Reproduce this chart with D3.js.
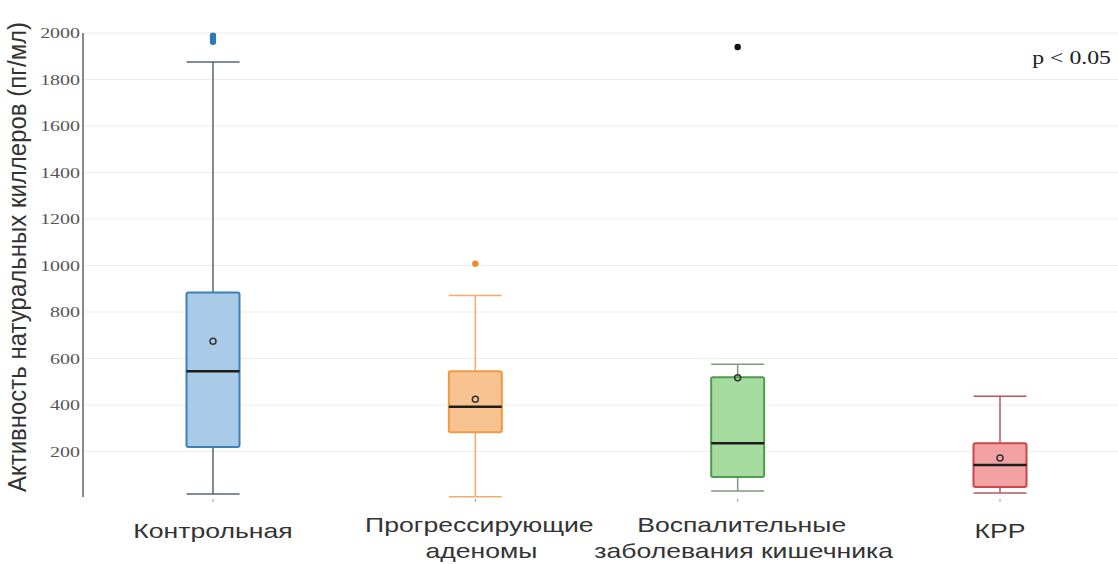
<!DOCTYPE html>
<html>
<head>
<meta charset="utf-8">
<script src="https://cdn.jsdelivr.net/npm/d3@7"></script>
<style>
  html, body { margin: 0; padding: 0; background: #fff; }
  svg { display: block; }
  .yaxis text { font-family: "Liberation Serif", "DejaVu Serif", serif; }
</style>
</head>
<body>
<svg id="chart" width="1118" height="564"></svg>
<script>
// Group labels (multi-line labels split by "\n")
const categories = [
  "Контрольная",
  "Прогрессирующие\nаденомы",
  "Воспалительные\nзаболевания кишечника",
  "КРР"
];
// Box-plot statistics, pg/ml
const whiskerLow  = [17, 5, 30, 21];
const q1          = [219, 283, 90, 47];
const median      = [545, 392, 236, 142];
const q3          = [884, 545, 519, 236];
const whiskerHigh = [1875, 871, 575, 438];
const means       = [674, 425, 517, 172];
const outliers    = [[1962, 1975, 1988], [1008], [1940], []];

const yTicks = [200, 400, 600, 800, 1000, 1200, 1400, 1600, 1800, 2000];

const fills   = ["#a9cbe7", "#f8c390", "#a6dba0", "#f2a2a3"];
const strokes = ["#3f7fb2", "#f09a45", "#4f9c4c", "#c9474b"];
const whiskerColors = ["#5a6670", "#f0ad70", "#7d9a7a", "#b5585c"];
const outlierColors = ["#2f79b3", "#f08a2a", "#111111", "#c9474b"];

// text is drawn slightly widened horizontally
const SX = 1.33;

const svg = d3.select("#chart");
const plot = { left: 83, right: 1118, top: 33, bottom: 498 };

const y = d3.scaleLinear().domain([0, 2000]).range([plot.bottom, plot.top]);
const x = d3.scalePoint().domain(d3.range(categories.length)).range([213, 1000]);
const bw = 53;

// grid lines
svg.append("g")
  .selectAll("line").data(yTicks).join("line")
  .attr("x1", plot.left).attr("x2", plot.right)
  .attr("y1", d => y(d)).attr("y2", d => y(d))
  .attr("stroke", "#ececec").attr("stroke-width", 1);

// y axis
const yAxis = d3.axisLeft(y).tickValues(yTicks).tickFormat(d3.format("d"))
  .tickSize(0).tickPadding(0);
const gy = svg.append("g").attr("class", "yaxis")
  .attr("transform", `translate(${plot.left},0)`).call(yAxis)
  .attr("font-family", "'Liberation Serif', 'DejaVu Serif', serif");
gy.select(".domain").attr("stroke", "#8a8a8a").attr("stroke-width", 2)
  .attr("d", `M0,${plot.top}V${plot.bottom - 1}`);
gy.selectAll(".tick text")
  .attr("x", 0)
  .attr("transform", `translate(-3,0) scale(${SX},1)`)
  .attr("font-size", 15).attr("fill", "#555");

// y axis title
svg.append("text")
  .attr("transform", `translate(26,257) scale(1.1,1) rotate(-90)`)
  .attr("text-anchor", "middle")
  .attr("font-family", "'Liberation Sans', Arial, sans-serif")
  .attr("font-size", 24).attr("fill", "#333")
  .text("Активность натуральных киллеров (пг/мл)");

// boxes
const groups = svg.append("g").selectAll("g").data(categories).join("g")
  .attr("transform", (d, i) => `translate(${x(i) - bw / 2},0)`);

groups.each(function (d, i) {
  const g = d3.select(this);
  const cx = bw / 2;
  // whisker stem
  g.append("line").attr("x1", cx).attr("x2", cx)
    .attr("y1", y(whiskerLow[i])).attr("y2", y(whiskerHigh[i]))
    .attr("stroke", whiskerColors[i]).attr("stroke-width", 1.5);
  // caps
  [whiskerLow[i], whiskerHigh[i]].forEach(v => {
    g.append("line").attr("x1", 0).attr("x2", bw)
      .attr("y1", y(v)).attr("y2", y(v))
      .attr("stroke", whiskerColors[i]).attr("stroke-width", 1.5);
  });
  // box
  g.append("rect").attr("x", 0).attr("width", bw)
    .attr("y", y(q3[i])).attr("height", y(q1[i]) - y(q3[i]))
    .attr("rx", 2)
    .attr("fill", fills[i]).attr("stroke", strokes[i]).attr("stroke-width", 2);
  // median
  g.append("line").attr("x1", 0).attr("x2", bw)
    .attr("y1", y(median[i])).attr("y2", y(median[i]))
    .attr("stroke", "#1d1d1d").attr("stroke-width", 2.5);
  // mean
  g.append("circle").attr("cx", cx).attr("cy", y(means[i])).attr("r", 3)
    .attr("fill", "none").attr("stroke", "#333").attr("stroke-width", 1.5);
  // outliers
  g.selectAll(".out").data(outliers[i]).join("circle").attr("class", "out")
    .attr("cx", cx).attr("cy", v => y(v)).attr("r", 3.2)
    .attr("fill", outlierColors[i]);
  // small tick under the axis baseline
  g.append("line").attr("x1", cx).attr("x2", cx)
    .attr("y1", plot.bottom + 1).attr("y2", plot.bottom + 4)
    .attr("stroke", "#999").attr("stroke-width", 1);
  // category label
  const lines = d.split("\n");
  const t = g.append("text").attr("text-anchor", "middle")
    .attr("font-family", "'Liberation Sans', Arial, sans-serif")
    .attr("font-size", 20).attr("fill", "#333");
  if (lines.length === 1) {
    t.attr("transform", `translate(${cx},538) scale(${SX},1)`)
      .append("tspan").attr("x", 0).attr("y", 0).text(lines[0]);
  } else {
    t.attr("transform", `translate(${cx},532) scale(${SX},1)`);
    lines.forEach((l, k) => t.append("tspan")
      .attr("x", (k ? 6 : 4) / SX).attr("y", k * 26).text(l));
  }
});

// significance note
svg.append("text")
  .attr("transform", `translate(1111,64) scale(1.25,1)`)
  .attr("text-anchor", "end")
  .attr("font-family", "'Liberation Serif', 'DejaVu Serif', serif")
  .attr("font-size", 19).attr("fill", "#222")
  .text("p < 0.05");
</script>
</body>
</html>
